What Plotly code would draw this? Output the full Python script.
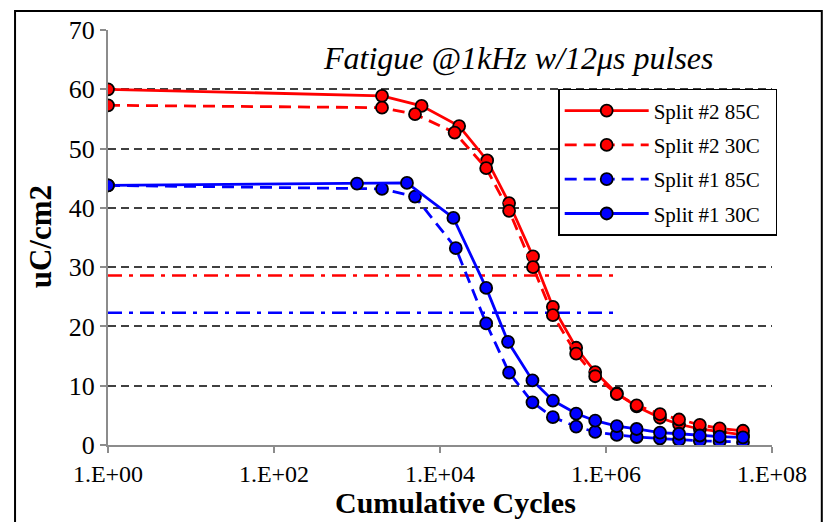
import plotly.graph_objects as go

# ---- data ----
tail_cycles = [2.29e5, 4.37e5, 7.41e5, 1.35e6, 2.34e6, 4.47e6, 7.59e6, 1.35e7, 2.34e7, 4.47e7]

s2_85_cycles = [1, 2000, 6000, 17000, 37000, 68000, 1.32e5] + tail_cycles
s2_85_vals = [60.0, 58.9, 57.2, 53.8, 48.0, 40.8, 31.8, 23.3, 16.4, 12.3, 8.7, 6.5, 4.6, 3.5, 2.7, 2.2, 1.7]

s2_30_cycles = [1, 2000, 5000, 15000, 36000, 68000, 1.32e5] + tail_cycles
s2_30_vals = [57.3, 56.9, 55.8, 52.7, 46.7, 39.5, 30.0, 21.9, 15.4, 11.6, 8.6, 6.7, 5.2, 4.3, 3.4, 2.8, 2.4]

s1_85_cycles = [1, 2000, 5000, 15500, 36000, 68000, 1.3e5] + tail_cycles
s1_85_vals = [43.8, 43.2, 41.9, 33.2, 20.5, 12.2, 7.2, 4.7, 3.1, 2.2, 1.7, 1.35, 1.1, 0.85, 0.7, 0.6, 0.5]

s1_30_cycles = [1, 1000, 4000, 14500, 36000, 66000, 1.3e5] + tail_cycles
s1_30_vals = [43.8, 44.1, 44.2, 38.3, 26.5, 17.4, 10.9, 7.5, 5.3, 4.1, 3.2, 2.7, 2.1, 1.9, 1.6, 1.4, 1.3]

threshold_cycles = [1, 1.35e6]
red_threshold = 28.6
blue_threshold = 22.3

x_tickvals = [1, 1e2, 1e4, 1e6, 1e8]
x_ticktext = ["1.E+00", "1.E+02", "1.E+04", "1.E+06", "1.E+08"]
y_tickvals = [0, 10, 20, 30, 40, 50, 60, 70]

FONT = "Times New Roman, Liberation Serif, serif"

fig = go.Figure()

# threshold lines (no legend)
fig.add_trace(go.Scatter(x=threshold_cycles, y=[red_threshold] * 2, mode="lines",
                         line=dict(color="#FF0000", width=2.5, dash="14px,7px,4px,7px"),
                         showlegend=False, hoverinfo="skip"))
fig.add_trace(go.Scatter(x=threshold_cycles, y=[blue_threshold] * 2, mode="lines",
                         line=dict(color="#0000FF", width=2.5, dash="14px,7px,4px,7px"),
                         showlegend=False, hoverinfo="skip"))

series = [
    ("Split #2 85C", s2_85_cycles, s2_85_vals, "#FF0000", "solid"),
    ("Split #2 30C", s2_30_cycles, s2_30_vals, "#FF0000", "12px,7px"),
    ("Split #1 85C", s1_85_cycles, s1_85_vals, "#0000FF", "12px,7px"),
    ("Split #1 30C", s1_30_cycles, s1_30_vals, "#0000FF", "solid"),
]
for i, (name, xs, ys, col, dash) in enumerate(series):
    fig.add_trace(go.Scatter(
        x=xs, y=ys, mode="lines+markers", name=name + "\u00a0\u00a0", legendgroup="g%d" % i,
        line=dict(color=col, width=2.8, dash=dash),
        marker=dict(symbol="circle", size=12, color=col, line=dict(color="black", width=1.8)),
    ))

fig.update_layout(
    width=829, height=522,
    margin=dict(l=108, r=57, t=30, b=77),
    paper_bgcolor="white", plot_bgcolor="white",
    font=dict(family=FONT, color="black"),
    showlegend=True,
    legend=dict(
        x=0.678, y=0.858, xanchor="left", yanchor="top",
        bgcolor="white", bordercolor="black", borderwidth=1.5,
        font=dict(family=FONT, size=21, color="black"),
        tracegroupgap=4, itemwidth=84,
    ),
    xaxis=dict(
        type="log", range=[0, 8],
        tickvals=x_tickvals, ticktext=x_ticktext,
        ticks="outside", ticklen=6, tickwidth=2, tickcolor="#8c8c8c",
        showline=True, linecolor="#8c8c8c", linewidth=2,
        showgrid=False, zeroline=False,
        tickfont=dict(family=FONT, size=24, color="black"),
    ),
    yaxis=dict(
        range=[0, 70], tickvals=y_tickvals,
        ticks="outside", ticklen=6, tickwidth=2, tickcolor="#8c8c8c",
        showline=True, linecolor="#8c8c8c", linewidth=2,
        showgrid=True, gridcolor="#404040", gridwidth=2, griddash="8px,5px",
        zeroline=False,
        tickfont=dict(family=FONT, size=26, color="black"),
    ),
    annotations=[
        dict(text="<i>Fatigue @1kHz w/12\u03bcs pulses</i>", x=0.617, y=0.933,
             xanchor="center", yanchor="middle",
             xref="paper", yref="paper", showarrow=False,
             font=dict(family=FONT, size=32, color="black")),
        dict(text="<b>Cumulative Cycles</b>", x=0.523, y=-0.1395,
             xanchor="center", yanchor="middle",
             xref="paper", yref="paper", showarrow=False,
             font=dict(family=FONT, size=30, color="black")),
        dict(text="<b>uC/cm2</b>", x=-0.102, y=0.501, textangle=-90,
             xanchor="center", yanchor="middle",
             xref="paper", yref="paper", showarrow=False,
             font=dict(family=FONT, size=31, color="black")),
    ],
    shapes=[
        dict(type="rect", xref="paper", yref="paper",
             x0=-0.140, x1=1.075, y0=-0.35, y1=1.046,
             line=dict(color="black", width=2), fillcolor="rgba(0,0,0,0)", layer="below"),
    ],
)

fig.write_html("out.html")
